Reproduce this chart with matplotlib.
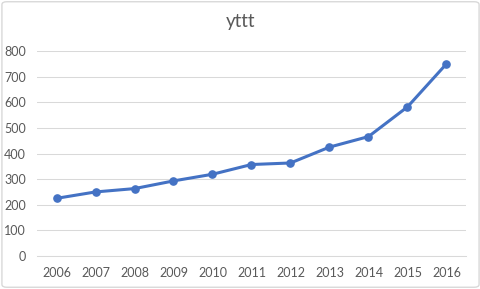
import matplotlib
matplotlib.use("Agg")
import matplotlib.pyplot as plt
from matplotlib.patches import FancyBboxPatch

years = ["2006", "2007", "2008", "2009", "2010", "2011", "2012", "2013", "2014", "2015", "2016"]
values = [225, 250, 263, 293, 319, 357, 363, 425, 466, 582, 750]
yticks = [0, 100, 200, 300, 400, 500, 600, 700, 800]

plt.rcParams['font.family'] = ['Lato', 'DejaVu Sans']
text_color = '#595959'
grid_color = '#D9D9D9'

fig = plt.figure(figsize=(4.81, 2.89), dpi=100)
border = FancyBboxPatch((0.004, 0.006), 0.992, 0.988, boxstyle="round,pad=0,rounding_size=0.01",
                        transform=fig.transFigure, facecolor='white', edgecolor=grid_color,
                        linewidth=1.0, zorder=-10)
fig.patches.append(border)

ax = fig.add_axes([37/481, 1-256/289, (466-37)/481, (256-51)/289])
ax.set_facecolor('none')
x = list(range(len(years)))
ax.plot(x, values, color='#4472C4', linewidth=2.2, marker='o', markersize=5.2, zorder=3)
ax.set_xlim(-0.5, len(years)-0.5)
ax.set_ylim(0, 800)
ax.set_yticks(yticks)
ax.set_yticklabels([str(v) for v in yticks])
ax.set_xticks(x)
ax.set_xticklabels(years)
ax.grid(axis='y', color=grid_color, linewidth=0.75)
ax.set_axisbelow(True)
for s in ['top', 'right', 'left']:
    ax.spines[s].set_visible(False)
ax.spines['bottom'].set_color(grid_color)
ax.spines['bottom'].set_linewidth(0.75)
ax.tick_params(axis='both', length=0, labelsize=9, colors=text_color)
ax.tick_params(axis='y', pad=8)
ax.tick_params(axis='x', pad=8)
fig.text(0.5, 1-22/289, "yttt", ha='center', va='center', fontsize=13.5, color=text_color)

fig.savefig("out.png", dpi=100)
